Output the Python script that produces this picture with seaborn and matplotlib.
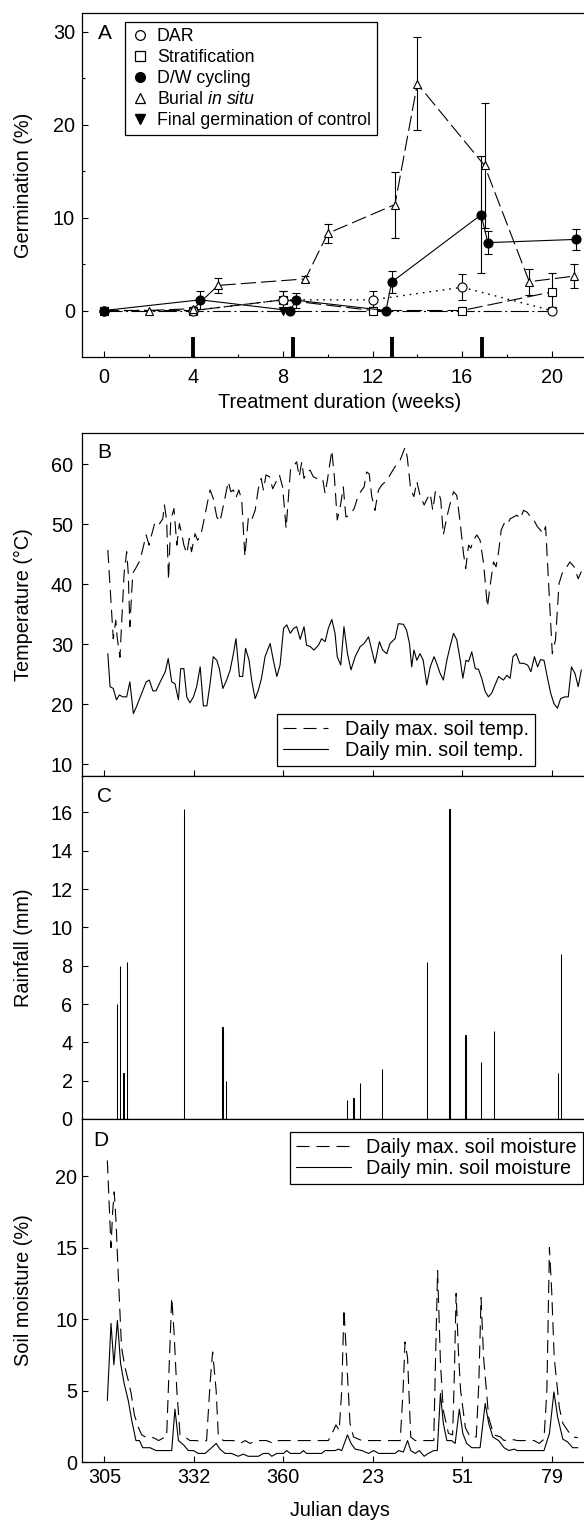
import matplotlib
matplotlib.use("Agg")
import matplotlib.pyplot as plt
from matplotlib.lines import Line2D
import seaborn as sns

# ---------------- Panel A data (weeks, germination %) ----------------
dar_w = [0, 4, 8, 12, 16, 20]
dar_v = [0, 0, 1.15, 1.15, 2.5, 0]
dar_e = [0, 0, 1.0, 1.0, 1.4, 0]

strat_w = [0, 4, 8, 12, 16, 20]
strat_v = [0, 0, 1.15, 0, 0, 2.0]
strat_e = [0, 0, 1.0, 0, 0, 2.0]

dw_w = [0, 4.3, 8.3, 8.6, 12.6, 12.85, 16.85, 17.15, 21.1]
dw_v = [0, 1.15, 0, 1.1, 0, 3.05, 10.3, 7.3, 7.65]
dw_e = [0, 1.0, 0, 0.8, 0, 1.2, 6.3, 1.2, 1.1]

burial_w = [2, 4, 5.1, 9.0, 10.0, 13.0, 14.0, 17.0, 19.0, 21.0]
burial_v = [0, 0.2, 2.7, 3.4, 8.3, 11.4, 24.4, 15.6, 3.1, 3.7]
burial_e = [0, 0, 0.85, 0.3, 1.0, 3.55, 5.0, 6.7, 1.4, 1.3]

control_w = [0, 4, 8, 12, 16, 20]
control_v = [0, 0, 0, 0, 0, 0]

event_weeks = [4.0, 8.45, 12.85, 16.9]
event_bottom, event_top = -5, -2.9

# ---------------- Panel B data (days after Julian day 305, deg C) ----------------
tmax_day = [1.1, 2.8, 3.6, 4.0, 4.9, 6.2, 7.0, 7.5, 8.0, 8.9, 10.1, 11.2, 12.2, 13.1, 14.0, 14.8,
            15.9, 17.2, 18.3, 18.8, 19.5, 20.1, 20.8, 21.8, 22.7, 23.5, 24.3, 24.9, 25.8, 26.6,
            27.3, 28.4, 29.2, 30.3, 31.2, 32.2, 33.1, 34.1, 35.2, 36.2, 37.5, 38.8, 39.6, 40.4,
            41.2, 42.1, 43.0, 44.0, 45.1, 46.1, 47.2, 48.2, 49.1, 49.8, 50.6, 51.7, 52.7, 53.8,
            54.8, 55.8, 56.9, 57.6, 58.3, 59.1, 60.2, 61.0, 61.8, 62.5, 63.3, 64.4, 65.4, 66.5,
            67.7, 68.4, 69.1, 69.8, 71.2, 72.0, 72.9, 74.0, 74.8, 75.6, 76.9, 78.2, 79.0, 80.2,
            81.3, 82.1, 82.9, 83.7, 84.7, 85.8, 86.8, 88.4, 89.4, 91.0, 92.6, 94.1, 94.8, 95.9,
            96.9, 97.8, 98.8, 100.1, 101.1, 102.0, 102.8, 103.6, 104.6, 105.3, 106.1, 107.2,
            108.2, 109.3, 110.3, 111.4, 112.4, 113.1, 114.0, 114.7, 115.5, 116.6, 117.6, 118.7,
            119.9, 120.7, 121.8, 122.6, 123.4, 124.2, 125.1, 126.0, 127.0, 128.1, 129.1, 130.2,
            131.2, 132.3, 133.4, 134.4, 135.5, 136.5, 137.3, 138.1, 139.1, 140.2, 141.2, 142.3,
            143.3, 144.4, 145.7, 147.0, 148.3, 149.3]
tmax_val = [45.7, 30.9, 34.0, 31.2, 27.8, 41.8, 45.4, 41.8, 32.9, 41.8, 42.9, 44.0, 46.2, 48.2, 46.5, 48.2,
            50.4, 50.0, 50.9, 53.2, 50.7, 40.7, 50.7, 52.6, 46.5, 50.1, 48.2, 46.5, 45.1, 47.6,
            45.4, 48.4, 47.3, 48.4, 50.7, 53.4, 55.7, 54.3, 51.2, 50.4, 53.7, 57.1, 55.4, 55.7,
            54.4, 55.7, 54.0, 44.6, 51.2, 50.7, 52.3, 55.9, 57.6, 55.7, 58.2, 57.9, 55.9, 57.1,
            58.2, 56.2, 49.3, 54.3, 59.3, 59.6, 60.4, 57.9, 60.4, 57.6, 58.7, 59.0, 57.9, 57.6,
            57.1, 57.3, 55.1, 57.3, 62.3, 57.9, 50.7, 53.4, 56.2, 51.2, 51.5, 52.6, 54.0, 55.4,
            56.2, 58.7, 58.4, 54.6, 52.3, 55.7, 56.5, 57.3, 58.2, 59.6, 60.7, 62.8, 61.2, 55.7,
            54.6, 57.1, 54.8, 53.2, 54.3, 55.1, 52.3, 55.4, 55.4, 54.0, 48.2, 51.2,
            53.4, 55.4, 54.8, 50.1, 45.1, 42.6, 46.5, 46.0, 47.3, 48.2, 47.3, 43.4,
            36.2, 39.6, 43.7, 42.9, 45.4, 49.0, 50.1, 49.8, 50.9, 51.2, 51.5, 50.9,
            52.3, 52.0, 51.2, 50.7, 49.6, 49.0, 48.4, 49.6, 39.6, 28.4, 30.7, 40.1,
            41.8, 42.6, 43.7, 42.9, 40.9, 42.1]

tmin_day = [1.1, 1.8, 2.8, 3.8, 4.7, 5.8, 7.0, 8.0, 9.1, 10.1, 11.7, 13.1, 14.1, 15.2, 16.2, 17.5,
            19.1, 20.0, 21.1, 22.1, 23.2, 23.9, 24.9, 25.8, 26.8, 27.9, 28.9, 30.0, 31.0, 32.1,
            33.1, 34.1, 35.2, 36.0, 37.1, 38.3, 39.4, 40.4, 41.2, 42.3, 43.3, 44.2, 45.3, 46.1,
            47.2, 48.2, 49.2, 50.3, 51.9, 52.9, 54.0, 55.0, 56.1, 57.1, 58.2, 59.2, 60.2, 61.3,
            62.5, 63.3, 64.4, 65.6, 67.0, 68.0, 69.1, 70.1, 71.2, 72.2, 72.9, 74.0, 75.0, 76.1,
            77.2, 78.5, 80.1, 81.3, 82.7, 83.7, 84.7, 86.1, 87.1, 88.4, 89.4, 91.0, 92.0, 93.6,
            94.6, 95.5, 96.2, 96.9, 97.8, 98.8, 99.8, 100.9, 102.0, 103.2, 104.0, 105.1, 106.1,
            107.2, 108.2, 109.3, 110.3, 111.4, 112.2, 113.2, 114.0, 115.0, 116.1, 117.1, 118.1,
            119.2, 120.2, 121.2, 122.3, 123.4, 124.1, 124.9, 126.0, 127.0, 127.9, 128.9, 130.0,
            131.2, 132.5, 133.5, 134.6, 135.6, 136.5, 137.6, 138.6, 139.7, 140.7, 141.8, 142.8,
            144.1, 145.2, 146.2, 147.3, 148.3, 149.3]
tmin_val = [28.4, 22.9, 22.6, 20.7, 21.5, 21.2, 21.2, 23.7, 18.4, 19.6, 21.8, 23.7, 24.0, 22.2, 22.2, 23.7,
            25.4, 27.6, 23.7, 23.4, 20.7, 25.9, 25.9, 21.2, 20.2, 21.2, 22.9, 26.2, 19.7, 19.7,
            23.4, 27.9, 27.3, 25.9, 22.6, 24.0, 25.7, 28.4, 30.9, 24.6, 24.6, 29.3, 27.3, 24.0,
            20.9, 22.3, 24.3, 27.9, 30.1, 27.3, 24.6, 26.5, 32.6, 33.2, 31.8, 32.6, 32.9, 30.8,
            32.9, 29.8, 29.6, 29.0, 29.8, 30.9, 30.4, 32.6, 34.1, 31.8, 27.9, 26.5, 32.9, 28.4,
            25.7, 27.9, 29.6, 30.1, 31.2, 29.0, 26.8, 30.4, 29.0, 28.4, 30.1, 30.9, 33.4, 33.3,
            32.3, 30.1, 26.2, 29.0, 27.3, 28.4, 27.3, 23.2, 26.2, 27.9, 26.8, 25.1, 24.0,
            27.3, 29.6, 31.8, 30.7, 27.3, 24.3, 27.3, 27.1, 28.7, 25.9, 25.8, 24.3,
            22.1, 21.2, 21.8, 23.2, 24.6, 24.3, 24.0, 24.8, 24.3, 27.9, 28.4, 26.8,
            26.8, 26.5, 25.4, 27.9, 26.2, 27.4, 27.3, 24.6, 21.8, 20.1, 19.3, 20.9,
            21.2, 21.2, 26.2, 25.1, 22.9, 25.7]

# ---------------- Panel C data (rainfall, mm) ----------------
rain_day = [4, 5, 6, 7, 25, 37, 38, 76, 78, 80, 87, 101, 108, 113, 118, 122, 142, 143]
rain_mm = [6.0, 8.0, 2.4, 8.2, 16.2, 4.8, 2.0, 1.0, 1.1, 1.9, 2.6, 8.2, 16.2, 4.4, 3.0, 4.6, 2.4, 8.6]

# ---------------- Panel D data (soil moisture, %) ----------------
mmax_day = [0.95, 2.1, 2.6, 3.1, 3.7, 4.4, 5.4, 6.5, 7.5, 8.4, 9.4, 10.7, 11.7, 13.3, 15.4, 17.0,
            18.6, 19.5, 20.4, 21.1, 21.8, 22.7, 23.7, 25.2, 26.8, 28.9, 30.4, 32.0, 33.1, 33.9,
            35.0, 35.7, 37.3, 40.4, 42.5, 44.1, 45.6, 47.7, 50.8, 52.9, 54.5, 61.3, 70.1, 71.7,
            72.5, 73.5, 74.3, 75.0, 75.9, 76.9, 78.0, 80.6, 92.6, 93.5, 94.1, 94.9, 95.9, 97.3,
            103.1, 103.6, 104.3, 105.2, 106.1, 107.7, 109.0, 109.5, 110.1, 110.8, 111.5, 113.0,
            114.5, 116.4, 117.2, 117.9, 118.7, 120.3, 121.9, 124.0, 125.1, 127.2, 129.3, 134.5,
            136.1, 137.6, 138.5, 139.3, 140.0, 140.8, 142.4, 143.5, 145.0, 146.6, 148.2]
mmax_val = [21.1, 15.0, 17.5, 18.9, 16.7, 12.9, 8.0, 6.6, 5.7, 4.8, 3.3, 2.4, 1.9, 1.7, 1.7, 1.5,
            1.7, 1.75, 7.3, 11.5, 9.2, 5.0, 1.9, 1.75, 1.5, 1.5, 1.4, 1.5, 5.5, 7.7,
            5.0, 1.75, 1.5, 1.5, 1.3, 1.5, 1.3, 1.5, 1.5, 1.3, 1.5, 1.5, 1.5, 2.2,
            2.6, 2.2, 5.0, 10.7, 6.9, 2.7, 1.75, 1.5, 1.5, 5.0, 8.4, 7.3, 1.75, 1.5,
            1.5, 6.6, 13.4, 6.9, 3.6, 2.0, 1.9, 5.7, 11.8, 7.8, 5.0, 2.4,
            1.75, 1.75, 5.5, 11.5, 7.3, 3.1, 1.9, 1.75, 1.5, 1.6, 1.5, 1.5,
            1.3, 1.6, 5.0, 15.0, 12.0, 7.3, 3.8, 2.7, 2.2, 1.75, 1.7]

mmin_day = [0.95, 2.1, 3.0, 4.1, 5.1, 6.2, 7.5, 8.6, 9.9, 11.0, 12.0, 14.3, 16.2, 21.1, 22.1, 23.2,
            24.8, 26.3, 27.9, 29.4, 31.5, 33.1, 35.0, 36.2, 37.8, 39.8, 41.9, 43.5, 45.0, 48.2,
            49.8, 51.4, 52.4, 54.0, 56.1, 57.1, 58.2, 61.3, 62.3, 63.3, 68.0, 69.1, 72.2, 73.3,
            74.3, 76.1, 77.2, 78.5, 80.6, 82.7, 84.3, 85.9, 91.0, 92.1, 93.6, 94.9, 95.9, 97.3,
            98.6, 100.1, 101.4, 103.1, 104.2, 105.2, 106.1, 107.2, 108.7, 109.8, 111.1, 112.2,
            113.4, 115.0, 117.6, 119.2, 120.3, 121.6, 123.4, 125.1, 126.6, 128.2, 129.3, 137.6,
            139.3, 140.7, 141.9, 143.5, 145.0, 146.6, 148.2]
mmin_val = [4.3, 9.7, 6.8, 9.9, 6.9, 5.5, 4.3, 2.9, 1.5, 1.5, 1.0, 1.0, 0.8, 0.8, 3.7, 1.5,
            1.2, 0.8, 0.8, 0.6, 0.6, 0.9, 1.3, 0.9, 0.6, 0.6, 0.4, 0.55, 0.4, 0.4,
            0.6, 0.6, 0.4, 0.6, 0.6, 0.8, 0.6, 0.6, 0.8, 0.6, 0.6, 0.8, 0.8, 0.9,
            0.8, 1.9, 1.3, 0.9, 0.8, 0.6, 0.8, 0.6, 0.6, 0.8, 0.7, 1.5, 0.8, 0.6,
            0.8, 0.4, 0.6, 0.8, 0.8, 4.8, 2.7, 1.5, 1.5, 1.3, 3.7, 2.0,
            1.3, 1.0, 1.0, 4.1, 2.7, 1.75, 1.5, 1.0, 0.8, 0.9, 0.8, 0.8,
            2.0, 4.9, 3.1, 1.6, 1.4, 1.0, 1.0]

# Tick labels
week_ticks = [0, 4, 8, 12, 16, 20]
julian_tick_days = [0, 28, 56, 84, 112, 140]
julian_tick_labels = ["305", "332", "360", "23", "51", "79"]

# ---------------- Style ----------------
sns.set_style("ticks")
plt.rcParams["font.family"] = ["Liberation Sans", "DejaVu Sans"]
plt.rcParams["mathtext.fontset"] = "custom"
plt.rcParams["mathtext.rm"] = "Liberation Sans"
plt.rcParams["mathtext.it"] = "Liberation Sans:italic"
plt.rcParams["lines.scale_dashes"] = False
plt.rcParams["axes.linewidth"] = 0.9
plt.rcParams["axes.edgecolor"] = "black"
plt.rcParams["xtick.color"] = "black"
plt.rcParams["ytick.color"] = "black"
plt.rcParams["text.color"] = "black"
plt.rcParams["axes.labelcolor"] = "black"

FS = 14.3
LW = 0.8
K = "black"

fig = plt.figure(figsize=(5.84, 15.22), dpi=100)
H = 1522.0
W = 584.0
left = 82 / W
width = (598 - 82) / W


def make_ax(top_px, bottom_px):
    return fig.add_axes([left, 1 - bottom_px / H, width, (bottom_px - top_px) / H])


axA = make_ax(13, 357)
axB = make_ax(433, 776)
axC = make_ax(776, 1119)
axD = make_ax(1119, 1462)

for ax in (axA, axB, axC, axD):
    ax.tick_params(which="both", direction="in", top=False, right=False,
                   labelsize=FS, width=0.8)
    ax.tick_params(which="major", length=4)
    ax.tick_params(which="minor", length=2.5)

# ---------------- Panel A ----------------
dash_burial = (0, (11, 3.6))
dash_strat = (0, (11, 3.6))
dash_ctrl = (0, (13, 2.5, 1.5, 2.5))
dot_dar = (0, (1.2, 3.6))


def err(ax, x, y, e):
    xs = [a for a, b in zip(x, e) if b > 0]
    ys = [a for a, b in zip(y, e) if b > 0]
    es = [b for b in e if b > 0]
    ax.errorbar(xs, ys, yerr=es, fmt="none", ecolor=K, elinewidth=LW,
                capsize=3.2, capthick=LW, zorder=2)


err(axA, burial_w, burial_v, burial_e)
err(axA, dw_w, dw_v, dw_e)
err(axA, dar_w, dar_v, dar_e)
err(axA, strat_w, strat_v, strat_e)

sns.lineplot(x=control_w, y=control_v, ax=axA, estimator=None, sort=False,
             color=K, lw=LW, linestyle=dash_ctrl, marker="v", markersize=5.5,
             markerfacecolor=K, markeredgecolor=K, markeredgewidth=0.8, zorder=3)
sns.lineplot(x=strat_w, y=strat_v, ax=axA, estimator=None, sort=False,
             color=K, lw=LW, linestyle=dash_strat, marker="s", markersize=5.5,
             markerfacecolor="white", markeredgecolor=K, markeredgewidth=0.8, zorder=4)
sns.lineplot(x=dar_w, y=dar_v, ax=axA, estimator=None, sort=False,
             color=K, lw=1.0, linestyle=dot_dar, marker="o", markersize=6.5,
             markerfacecolor="white", markeredgecolor=K, markeredgewidth=0.8, zorder=4)
sns.lineplot(x=burial_w, y=burial_v, ax=axA, estimator=None, sort=False,
             color=K, lw=LW, linestyle=dash_burial, marker="^", markersize=5.5,
             markerfacecolor="white", markeredgecolor=K, markeredgewidth=0.8, zorder=5)
sns.lineplot(x=dw_w, y=dw_v, ax=axA, estimator=None, sort=False,
             color=K, lw=LW, linestyle="-", marker="o", markersize=6.5,
             markerfacecolor=K, markeredgecolor=K, markeredgewidth=0.8, zorder=6)

axA.vlines(event_weeks, event_bottom, event_top, colors=K, linewidth=2.8, zorder=3)

axA.set_xlim(-0.98, 22.07)
axA.set_ylim(-5, 32)
axA.set_xticks(week_ticks)
axA.set_xticks([2, 6, 10, 14, 18], minor=True)
axA.set_yticks([0, 10, 20, 30])
axA.set_yticks([5, 15, 25], minor=True)
axA.tick_params(axis="x", which="both", pad=8)
axA.tick_params(axis="y", which="both", pad=5)
axA.set_xlabel("Treatment duration (weeks)", fontsize=FS)
axA.set_ylabel("Germination (%)", fontsize=FS)
axA.xaxis.set_label_coords(0.5, -0.105)
axA.yaxis.set_label_coords(-0.095, 0.5)
axA.xaxis.label.set_va("top")
axA.text(0.031, 0.968, "A", transform=axA.transAxes, fontsize=15, va="top", ha="left")

handlesA = [
    Line2D([], [], ls="none", marker="o", ms=7, mfc="white", mec=K, mew=0.9),
    Line2D([], [], ls="none", marker="s", ms=7, mfc="white", mec=K, mew=0.9),
    Line2D([], [], ls="none", marker="o", ms=7, mfc=K, mec=K),
    Line2D([], [], ls="none", marker="^", ms=7.5, mfc="white", mec=K, mew=0.9),
    Line2D([], [], ls="none", marker="v", ms=7.5, mfc=K, mec=K),
]
labelsA = ["DAR", "Stratification", "D/W cycling", r"Burial $\mathit{in\ situ}$",
           "Final germination of control"]
legA = axA.legend(handlesA, labelsA, loc="upper left", bbox_to_anchor=(0.083, 0.974),
                  borderaxespad=0, fontsize=12.8, frameon=True, fancybox=False,
                  edgecolor=K, framealpha=1, handlelength=1.0, handletextpad=0.45,
                  labelspacing=0.22, borderpad=0.35)
legA.get_frame().set_linewidth(0.9)

# ---------------- Panel B ----------------
dash_max = (0, (9.4, 5))
sns.lineplot(x=tmax_day, y=tmax_val, ax=axB, estimator=None, sort=False,
             color=K, lw=LW, linestyle=dash_max)
sns.lineplot(x=tmin_day, y=tmin_val, ax=axB, estimator=None, sort=False,
             color=K, lw=LW, linestyle="-")
axB.set_xlim(-6.98, 154.5)
axB.set_ylim(8, 65.2)
axB.set_xticks(julian_tick_days)
axB.set_xticklabels([])
axB.set_yticks([10, 20, 30, 40, 50, 60])
axB.tick_params(axis="y", pad=6.5)
axB.set_ylabel("Temperature (\u00b0C)", fontsize=FS)
axB.yaxis.set_label_coords(-0.095, 0.5)
axB.set_xlabel("")
axB.text(0.03, 0.972, "B", transform=axB.transAxes, fontsize=15, va="top", ha="left")
handlesB = [Line2D([], [], color=K, lw=LW, ls=dash_max), Line2D([], [], color=K, lw=LW)]
legB = axB.legend(handlesB, ["Daily max. soil temp.", "Daily min. soil temp."],
                  loc="lower right", bbox_to_anchor=(0.877, 0.029), borderaxespad=0,
                  fontsize=FS, frameon=True, fancybox=False, edgecolor=K, framealpha=1,
                  handlelength=2.26, handletextpad=0.83, labelspacing=0.1, borderpad=0.3)
legB.get_frame().set_linewidth(0.9)

# ---------------- Panel C ----------------
sns.barplot(x=rain_day, y=rain_mm, ax=axC, native_scale=True, color=K,
            width=0.08, errorbar=None, linewidth=0.75, edgecolor=K, saturation=1)
axC.set_xlim(-6.98, 154.5)
axC.set_ylim(0, 17.9)
axC.set_yticks(list(range(0, 17, 2)))
axC.set_xticks([])
axC.tick_params(axis="y", pad=6.8)
axC.set_ylabel("Rainfall (mm)", fontsize=FS)
axC.yaxis.set_label_coords(-0.095, 0.5)
axC.set_xlabel("")
axC.text(0.03, 0.968, "C", transform=axC.transAxes, fontsize=15, va="top", ha="left")

# ---------------- Panel D ----------------
sns.lineplot(x=mmax_day, y=mmax_val, ax=axD, estimator=None, sort=False,
             color=K, lw=LW, linestyle=dash_max)
sns.lineplot(x=mmin_day, y=mmin_val, ax=axD, estimator=None, sort=False,
             color=K, lw=LW, linestyle="-")
axD.set_xlim(-6.98, 154.5)
axD.set_ylim(0, 24)
axD.set_xticks(julian_tick_days)
axD.set_xticklabels(julian_tick_labels)
axD.set_yticks([0, 5, 10, 15, 20])
axD.tick_params(axis="x", pad=4.5)
axD.tick_params(axis="y", pad=3.5)
axD.set_ylabel("Soil moisture (%)", fontsize=FS)
axD.set_xlabel("Julian days", fontsize=FS)
axD.yaxis.set_label_coords(-0.095, 0.5)
axD.xaxis.set_label_coords(0.5, -0.114)
axD.xaxis.label.set_va("top")
axD.text(0.021, 0.965, "D", transform=axD.transAxes, fontsize=15, va="top", ha="left")
handlesD = [Line2D([], [], color=K, lw=LW, ls=dash_max), Line2D([], [], color=K, lw=LW)]
legD = axD.legend(handlesD, ["Daily max. soil moisture", "Daily min. soil moisture"],
                  loc="upper right", bbox_to_anchor=(0.971, 0.963), borderaxespad=0,
                  fontsize=FS, frameon=True, fancybox=False, edgecolor=K, framealpha=1,
                  handlelength=2.76, handletextpad=0.8, labelspacing=0.1, borderpad=0.3)
legD.get_frame().set_linewidth(0.9)

fig.savefig("out.png", dpi=100)
